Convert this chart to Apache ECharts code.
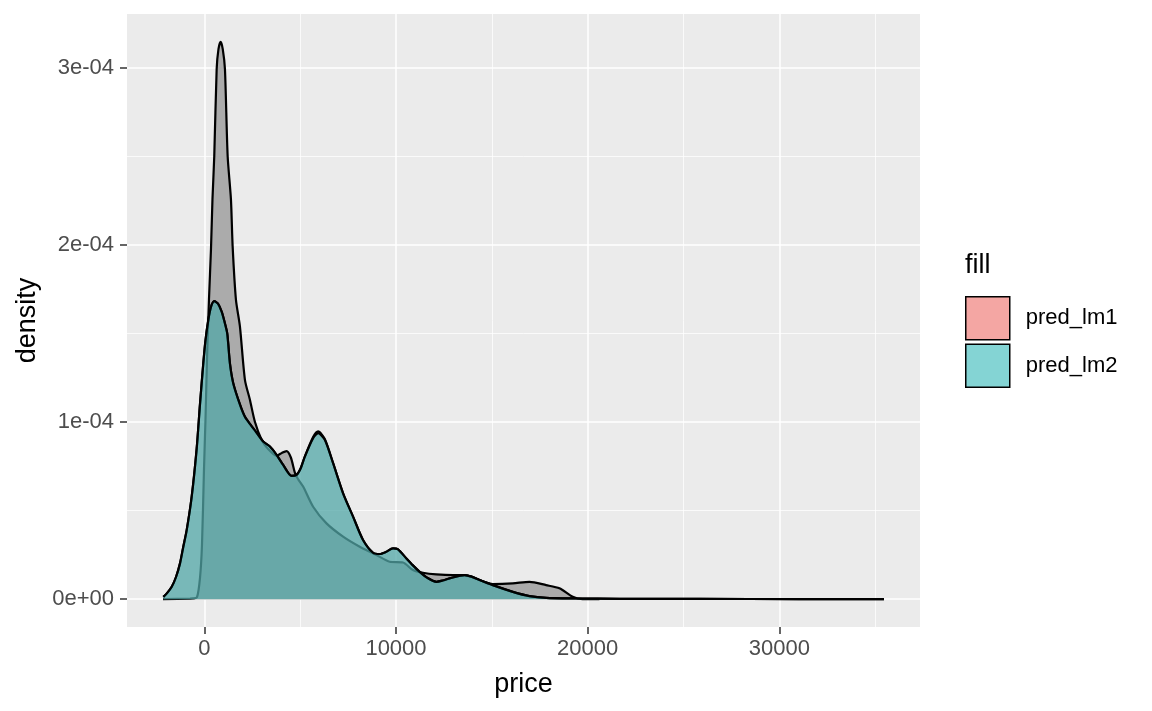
<!DOCTYPE html>
<html><head><meta charset="utf-8">
<script src="https://cdn.jsdelivr.net/npm/echarts@6/dist/echarts.min.js"></script>
<style>html,body{margin:0;padding:0;background:#fff}#c{width:1152px;height:711px}</style>
</head><body><div id="c"></div>
<script>
const xTickValues = [0, 10000, 20000, 30000];
const xTickLabels = ['0', '10000', '20000', '30000'];
const yTickValues = [0, 1e-4, 2e-4, 3e-4];
const yTickLabels = ['0e+00', '1e-04', '2e-04', '3e-04'];
const seriesNames = ['pred_lm1', 'pred_lm2'];

// grey layer (observed price density)
const priceX = [-2151,-745,-589,-380,-224,-120,-16,62,141,245,349,427,521,646,740,854,964,1078,1219,1391,1479,1651,1859,2120,2380,2640,2990,3318,3771,4047,4292,4516,4724,4880,5156,5677,6375,7240,8109,8979,9672,10365,10885,11406,12104,12969,13578,14359,15052,16094,16963,17833,18526,19219,19724,20609];
const priceY = [0,0.003e-4,0.004e-4,0.011e-4,0.119e-4,0.306e-4,0.730e-4,1.013e-4,1.353e-4,1.692e-4,1.975e-4,2.258e-4,2.503e-4,2.994e-4,3.107e-4,3.148e-4,3.107e-4,2.994e-4,2.503e-4,2.258e-4,1.994e-4,1.692e-4,1.541e-4,1.239e-4,1.126e-4,1.002e-4,0.900e-4,0.850e-4,0.810e-4,0.826e-4,0.836e-4,0.800e-4,0.715e-4,0.680e-4,0.636e-4,0.522e-4,0.428e-4,0.353e-4,0.296e-4,0.249e-4,0.211e-4,0.207e-4,0.164e-4,0.149e-4,0.140e-4,0.136e-4,0.136e-4,0.108e-4,0.085e-4,0.089e-4,0.098e-4,0.079e-4,0.061e-4,0.013e-4,0,0];

// pred_lm1
const lm1X = [-2135,-1943,-1698,-1474,-1266,-1094,-917,-656,-396,-224,-52,62,208,349,521,714,906,1052,1198,1339,1510,1859,2120,2380,2693,3073,3422,3771,4115,4552,4812,5036,5245,5677,5937,6286,6719,7240,7760,8281,8802,9151,9464,9844,10089,10542,10870,11235,11651,12104,12432,12797,13578,13943,14359,15052,16094,16963,17833,19396,21651,25818,31026,35453];
const lm1Y = [0.013e-4,0.034e-4,0.070e-4,0.125e-4,0.202e-4,0.296e-4,0.390e-4,0.579e-4,0.850e-4,1.100e-4,1.330e-4,1.460e-4,1.575e-4,1.650e-4,1.683e-4,1.669e-4,1.624e-4,1.568e-4,1.500e-4,1.330e-4,1.220e-4,1.100e-4,1.030e-4,0.990e-4,0.945e-4,0.890e-4,0.862e-4,0.815e-4,0.758e-4,0.696e-4,0.702e-4,0.741e-4,0.805e-4,0.915e-4,0.947e-4,0.905e-4,0.768e-4,0.598e-4,0.466e-4,0.334e-4,0.262e-4,0.255e-4,0.266e-4,0.287e-4,0.283e-4,0.230e-4,0.192e-4,0.154e-4,0.119e-4,0.098e-4,0.105e-4,0.117e-4,0.136e-4,0.127e-4,0.108e-4,0.079e-4,0.041e-4,0.017e-4,0.007e-4,0.004e-4,0.002e-4,0.001e-4,0.0005e-4,0.0002e-4];

// pred_lm2
const lm2X = [-2135,-1943,-1698,-1474,-1266,-1094,-917,-656,-396,-224,-52,62,208,349,521,714,906,1052,1198,1339,1510,1859,2120,2380,2693,3073,3422,3771,4115,4552,4812,5036,5245,5677,5937,6286,6719,7240,7760,8281,8802,9151,9464,9844,10089,10542,10870,11235,11651,12104,12432,12797,13578,13943,14359,15052,16094,16963,17833,19396,21651,25818,31026,35453];
const lm2Y = [0.013e-4,0.034e-4,0.070e-4,0.125e-4,0.202e-4,0.296e-4,0.390e-4,0.579e-4,0.850e-4,1.100e-4,1.330e-4,1.460e-4,1.575e-4,1.650e-4,1.683e-4,1.669e-4,1.624e-4,1.568e-4,1.500e-4,1.330e-4,1.220e-4,1.100e-4,1.030e-4,0.990e-4,0.945e-4,0.890e-4,0.862e-4,0.815e-4,0.758e-4,0.696e-4,0.702e-4,0.741e-4,0.805e-4,0.909e-4,0.938e-4,0.900e-4,0.768e-4,0.598e-4,0.466e-4,0.334e-4,0.262e-4,0.255e-4,0.266e-4,0.287e-4,0.283e-4,0.230e-4,0.192e-4,0.154e-4,0.119e-4,0.098e-4,0.105e-4,0.117e-4,0.136e-4,0.127e-4,0.108e-4,0.079e-4,0.041e-4,0.017e-4,0.007e-4,0.004e-4,0.002e-4,0.001e-4,0.0005e-4,0.0002e-4];

function pairs(xs, ys) { return xs.map((x, i) => [x, ys[i]]); }
function labelFor(vals, labels, v) {
  let b = 0, d = Infinity;
  vals.forEach((t, i) => { const dd = Math.abs(t - v); if (dd < d) { d = dd; b = i; } });
  return labels[b];
}
const FONT = '"Liberation Sans", Arial, Helvetica, sans-serif';

const chart = echarts.init(document.getElementById('c'), null, { renderer: 'canvas' });
const lineCommon = { type: 'line', showSymbol: false, symbol: 'none', smooth: 0.25, silent: true,
  lineStyle: { color: '#000', width: 2.2 } };

chart.setOption({
  animation: false,
  backgroundColor: '#fff',
  textStyle: { fontFamily: FONT },
  title: { text: 'fill', left: 965, top: 252, padding: 0,
    textStyle: { fontSize: 27, fontWeight: 'normal', color: '#000', fontFamily: FONT } },
  legend: {
    orient: 'vertical', left: 965, top: 296, padding: 0,
    itemWidth: 44, itemHeight: 43, itemGap: 3, icon: 'rect',
    selectedMode: false,
    textStyle: { fontSize: 22, color: '#000', fontFamily: FONT, padding: [0, 0, 0, 11] },
    data: [
      { name: seriesNames[0], icon: 'rect', itemStyle: { color: '#F4A6A3', borderColor: '#000', borderWidth: 1.5 } },
      { name: seriesNames[1], icon: 'rect', itemStyle: { color: '#84D4D4', borderColor: '#000', borderWidth: 1.5 } }
    ]
  },
  grid: { left: 127, right: 232, top: 14, bottom: 84, show: true, backgroundColor: '#EBEBEB', borderWidth: 0, containLabel: false },
  xAxis: {
    type: 'value', min: -4031, max: 37333, minInterval: 10000, maxInterval: 10000,
    name: 'price', nameLocation: 'middle', nameGap: 44,
    nameTextStyle: { color: '#000', fontSize: 27, fontFamily: FONT },
    axisLine: { show: false, onZero: false },
    axisTick: { show: true, length: 7, lineStyle: { color: '#333', width: 1.5 }, customValues: xTickValues },
    axisLabel: { customValues: xTickValues, formatter: v => labelFor(xTickValues, xTickLabels, v),
      color: '#4D4D4D', fontSize: 22, fontFamily: FONT, margin: 11 },
    splitLine: { show: true, lineStyle: { color: '#fff', width: 1.5 } },
    minorTick: { show: false, splitNumber: 2 },
    minorSplitLine: { show: true, lineStyle: { color: '#fff', width: 0.75 } }
  },
  yAxis: {
    type: 'value', min: -1.574e-5, max: 3.305e-4, minInterval: 1e-4, maxInterval: 1e-4,
    name: 'density', nameLocation: 'middle', nameGap: 80, nameRotate: 90,
    nameTextStyle: { color: '#000', fontSize: 27, fontFamily: FONT },
    axisLine: { show: false, onZero: false },
    axisTick: { show: true, length: 7, lineStyle: { color: '#333', width: 1.5 }, customValues: yTickValues },
    axisLabel: { customValues: yTickValues, formatter: v => labelFor(yTickValues, yTickLabels, v),
      color: '#4D4D4D', fontSize: 22, fontFamily: FONT, margin: 13 },
    splitLine: { show: true, lineStyle: { color: '#fff', width: 1.5 } },
    minorTick: { show: false, splitNumber: 2 },
    minorSplitLine: { show: true, lineStyle: { color: '#fff', width: 0.75 } }
  },
  series: [
    Object.assign({}, lineCommon, { name: 'price', z: 2, data: pairs(priceX, priceY),
      itemStyle: { color: '#ABABAB' }, areaStyle: { color: '#ABABAB', opacity: 1 } }),
    Object.assign({}, lineCommon, { name: seriesNames[0], z: 3, data: pairs(lm1X, lm1Y),
      itemStyle: { color: '#F8766D' }, areaStyle: { color: '#F8766D', opacity: 0.5 } }),
    Object.assign({}, lineCommon, { name: seriesNames[1], z: 4, data: pairs(lm2X, lm2Y),
      itemStyle: { color: '#00BFC4' }, areaStyle: { color: '#00BFC4', opacity: 0.5 } })
  ]
});
</script></body></html>
